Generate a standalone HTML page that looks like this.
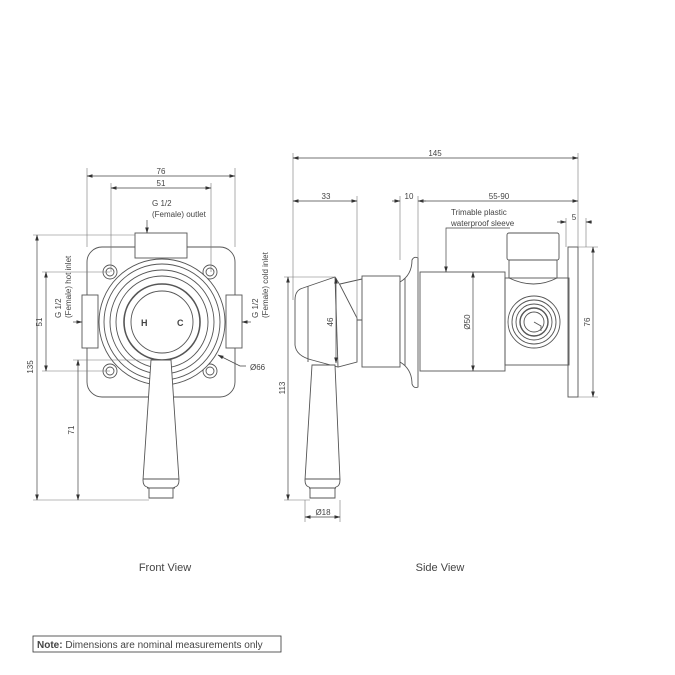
<!DOCTYPE html>
<html><head><meta charset="utf-8"><style>
html,body{margin:0;padding:0;background:#fff;}
svg{display:block;}
text{font-family:"Liberation Sans",sans-serif;fill:#444;}
</style></head><body>
<svg width="675" height="675" viewBox="0 0 675 675" xmlns="http://www.w3.org/2000/svg">
<defs>
<marker id="a" markerWidth="6" markerHeight="6" refX="5.5" refY="3" orient="auto-start-reverse" markerUnits="userSpaceOnUse"><path d="M0,1.2 L6,3 L0,4.8z" fill="#333"/></marker>
</defs>
<g fill="none" stroke="#555" stroke-width="0.9">
<!-- FRONT VIEW -->
<rect x="87" y="247" width="148" height="150" rx="15"/>
<rect x="135" y="233" width="52" height="25" fill="#fff"/>
<rect x="82" y="295" width="16" height="53" fill="#fff"/>
<rect x="226" y="295" width="16" height="53" fill="#fff"/>
<circle cx="110" cy="272" r="7"/><circle cx="110" cy="272" r="4"/>
<circle cx="210" cy="272" r="7"/><circle cx="210" cy="272" r="4"/>
<circle cx="110" cy="371" r="7"/><circle cx="110" cy="371" r="4"/>
<circle cx="210" cy="371" r="7"/><circle cx="210" cy="371" r="4"/>
<circle cx="162" cy="322" r="63" fill="#fff"/>
<circle cx="162" cy="322" r="58"/>
<circle cx="162" cy="322" r="52"/>
<circle cx="162" cy="322" r="46"/>
<circle cx="162" cy="322" r="38" stroke-width="1.6"/>
<circle cx="162" cy="322" r="31"/>
<path d="M151,360 L171,360 L179,480 Q179,486 175,487 L173,488 L173,498 L149,498 L149,488 L147,487 Q143,486 143,480 Z" fill="#fff"/>
<line x1="143" y1="479" x2="179" y2="479"/>
<line x1="147" y1="488" x2="175" y2="488"/>
<!-- front dims -->
<g stroke="#777" stroke-width="0.6">
<line x1="87" y1="168" x2="87" y2="247"/><line x1="235" y1="168" x2="235" y2="247"/>
<line x1="111" y1="183" x2="111" y2="272"/><line x1="211" y1="183" x2="211" y2="272"/>
<line x1="33" y1="235" x2="135" y2="235"/><line x1="33" y1="500" x2="149" y2="500"/>
<line x1="42" y1="272" x2="110" y2="272"/><line x1="42" y1="371" x2="110" y2="371"/>
<line x1="73" y1="360" x2="151" y2="360"/>
</g>
<g stroke="#444" stroke-width="0.7">
<line x1="87" y1="176" x2="235" y2="176" marker-start="url(#a)" marker-end="url(#a)"/>
<line x1="111" y1="188" x2="211" y2="188" marker-start="url(#a)" marker-end="url(#a)"/>
<line x1="37" y1="235" x2="37" y2="500" marker-start="url(#a)" marker-end="url(#a)"/>
<line x1="46" y1="272" x2="46" y2="371" marker-start="url(#a)" marker-end="url(#a)"/>
<line x1="78" y1="360" x2="78" y2="500" marker-start="url(#a)" marker-end="url(#a)"/>
<polyline points="147,220 147,233" marker-end="url(#a)"/>
<polyline points="73,322 82,322" marker-end="url(#a)"/>
<polyline points="251,322 242,322" marker-end="url(#a)"/>
<polyline points="246,366 240,366 218,355" marker-end="url(#a)"/>
</g>

<!-- SIDE VIEW -->
<path d="M295,300 Q295,290 303,288 L335,277 L340,285 L357,318 L357,362 L338,367 L312,360 Q296,356 295,345 Z" fill="#fff"/>
<line x1="308" y1="286" x2="308" y2="362"/>
<line x1="335" y1="277" x2="338" y2="367"/>
<path d="M340,284 L362,279 M357,320 L362,320"/>
<rect x="362" y="276" width="38" height="91"/>
<path d="M400,282 Q412,275 412,260 Q414,256 418,258 L418,387 Q414,389 412,384 Q412,369 400,362 Z" fill="#fff"/>
<line x1="405" y1="278" x2="405" y2="366"/>
<rect x="420" y="272" width="85" height="99"/>
<rect x="505" y="278" width="64" height="87"/>
<path d="M509,260 L509,278 Q534,290 557,278 L557,260"/>
<rect x="507" y="233" width="52" height="27" rx="2" fill="#fff"/>
<circle cx="534" cy="322" r="26"/><circle cx="534" cy="322" r="22"/>
<circle cx="534" cy="322" r="18"/><circle cx="534" cy="322" r="14" stroke-width="1.4"/>
<circle cx="534" cy="322" r="10"/>
<path d="M534,322 L541,326 L541,331"/>
<rect x="568" y="247" width="10" height="150"/>
<path d="M312,365 L335,365 L340,480 Q340,486 336,487 L335,488 L335,498 L310,498 L310,488 L309,487 Q305,486 305,480 Z" fill="#fff"/>
<line x1="305" y1="479" x2="340" y2="479"/>
<line x1="309" y1="488" x2="336" y2="488"/>
<g stroke="#777" stroke-width="0.6">
<line x1="293" y1="153" x2="293" y2="300"/><line x1="578" y1="153" x2="578" y2="247"/>
<line x1="357" y1="196" x2="357" y2="318"/>
<line x1="400" y1="196" x2="400" y2="260"/><line x1="418" y1="196" x2="418" y2="258"/>
<line x1="566" y1="218" x2="566" y2="247"/><line x1="586" y1="218" x2="586" y2="247"/>
<line x1="284" y1="277" x2="335" y2="277"/><line x1="284" y1="500" x2="310" y2="500"/>
<line x1="578" y1="247" x2="598" y2="247"/><line x1="578" y1="397" x2="598" y2="397"/>
<line x1="305" y1="500" x2="305" y2="522"/><line x1="340" y1="500" x2="340" y2="522"/>
</g>
<g stroke="#444" stroke-width="0.7">
<line x1="293" y1="158" x2="578" y2="158" marker-start="url(#a)" marker-end="url(#a)"/>
<line x1="293" y1="201" x2="357" y2="201" marker-start="url(#a)" marker-end="url(#a)"/>
<line x1="392" y1="201" x2="400" y2="201" marker-end="url(#a)"/>
<line x1="426" y1="201" x2="418" y2="201" marker-end="url(#a)"/>
<line x1="419" y1="201" x2="578" y2="201" marker-end="url(#a)"/>
<line x1="557" y1="222" x2="566" y2="222" marker-end="url(#a)"/>
<line x1="592" y1="222" x2="586" y2="222" marker-end="url(#a)"/>
<line x1="288" y1="277" x2="288" y2="500" marker-start="url(#a)" marker-end="url(#a)"/>
<line x1="336" y1="278" x2="336" y2="363" marker-start="url(#a)" marker-end="url(#a)"/>
<line x1="473" y1="272" x2="473" y2="371" marker-start="url(#a)" marker-end="url(#a)"/>
<line x1="593" y1="247" x2="593" y2="397" marker-start="url(#a)" marker-end="url(#a)"/>
<line x1="305" y1="517" x2="340" y2="517" marker-start="url(#a)" marker-end="url(#a)"/>
<polyline points="510,228 446,228 446,272" marker-end="url(#a)"/>
</g>
<rect x="33" y="636" width="248" height="16" stroke="#333" stroke-width="0.8"/>
</g>

<g font-size="8">
<text x="161" y="174" text-anchor="middle">76</text>
<text x="161" y="186" text-anchor="middle">51</text>
<text x="152" y="206">G 1/2</text>
<text x="152" y="217">(Female) outlet</text>
<text x="141" y="326" font-weight="bold" font-size="9">H</text>
<text x="177" y="326" font-weight="bold" font-size="9">C</text>
<text x="250" y="370">Ø66</text>
<text transform="translate(33,367) rotate(-90)" text-anchor="middle">135</text>
<text transform="translate(42,322) rotate(-90)" text-anchor="middle">51</text>
<text transform="translate(74,430) rotate(-90)" text-anchor="middle">71</text>
<text transform="translate(61,318) rotate(-90)">G 1/2</text>
<text transform="translate(71,318) rotate(-90)">(Female) hot inlet</text>
<text transform="translate(258,318) rotate(-90)">G 1/2</text>
<text transform="translate(268,318) rotate(-90)">(Female) cold inlet</text>
<text x="435" y="156" text-anchor="middle">145</text>
<text x="326" y="199" text-anchor="middle">33</text>
<text x="409" y="199" text-anchor="middle">10</text>
<text x="499" y="199" text-anchor="middle">55-90</text>
<text x="574" y="220" text-anchor="middle">5</text>
<text x="451" y="215">Trimable plastic</text>
<text x="451" y="226">waterproof sleeve</text>
<text transform="translate(333,322) rotate(-90)" text-anchor="middle">46</text>
<text transform="translate(470,322) rotate(-90)" text-anchor="middle">Ø50</text>
<text transform="translate(590,322) rotate(-90)" text-anchor="middle">76</text>
<text transform="translate(285,388) rotate(-90)" text-anchor="middle">113</text>
<text x="323" y="515" text-anchor="middle">Ø18</text>
</g>
<text x="165" y="571" font-size="11" text-anchor="middle">Front View</text>
<text x="440" y="571" font-size="11" text-anchor="middle">Side View</text>
<text x="37" y="648" font-size="10" fill="#111"><tspan font-weight="bold">Note:</tspan> Dimensions are nominal measurements only</text>
</svg>
</body></html>
